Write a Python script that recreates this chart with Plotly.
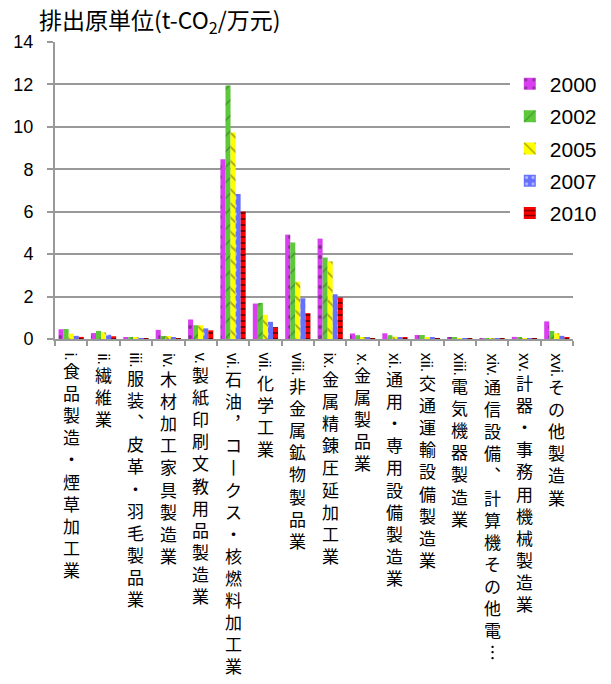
import plotly.graph_objects as go

# ---------------- data ----------------
categories_prefix = ["i.", "ii.", "iii.", "iv.", "v.", "vi.", "vii.", "viii.",
                     "ix.", "x.", "xi.", "xii.", "xiii.", "xiv.", "xv.", "xvi."]
categories_name = [
    "食品製造・煙草加工業",
    "繊維業",
    "服装、皮革・羽毛製品業",
    "木材加工家具製造業",
    "製紙印刷文教用品製造業",
    "石油，コークス・核燃料加工業",
    "化学工業",
    "非金属鉱物製品業",
    "金属精錬圧延加工業",
    "金属製品業",
    "通用・専用設備製造業",
    "交通運輸設備製造業",
    "電気機器製造業",
    "通信設備、計算機その他電…",
    "計器・事務用機械製造業",
    "その他製造業",
]
years = ["2000", "2002", "2005", "2007", "2010"]
v2000 = [0.46, 0.28, 0.09, 0.43, 0.92, 8.47, 1.67, 4.92, 4.73, 0.26, 0.27, 0.19, 0.05, 0.01, 0.10, 0.83]
v2002 = [0.47, 0.38, 0.06, 0.14, 0.65, 11.95, 1.70, 4.55, 3.84, 0.18, 0.18, 0.19, 0.05, 0.01, 0.06, 0.38]
v2005 = [0.25, 0.31, 0.05, 0.14, 0.65, 9.73, 1.14, 2.70, 3.66, 0.07, 0.11, 0.08, 0.02, 0.005, 0.02, 0.27]
v2007 = [0.15, 0.20, 0.03, 0.05, 0.50, 6.84, 0.81, 1.92, 2.11, 0.05, 0.08, 0.05, 0.01, 0.005, 0.02, 0.15]
v2010 = [0.10, 0.13, 0.02, 0.04, 0.41, 6.01, 0.56, 1.22, 1.95, 0.03, 0.05, 0.04, 0.01, 0.005, 0.01, 0.06]
series_values = [v2000, v2002, v2005, v2007, v2010]
y_tick_values = [0, 2, 4, 6, 8, 10, 12, 14]
title_text = "排出原単位(t-CO<sub>2</sub>/万元)"

# ---------------- styles ----------------
colors = ["#D93EF0", "#5CC83A", "#FFFF00", "#6670FF", "#FF0000"]
patterns = [
    dict(shape=".", fgcolor="#2a2a2a", size=10, solidity=0.12),
    dict(shape="/", fgcolor="#2f4f22", size=11, solidity=0.12),
    dict(shape="\\", fgcolor="#4a4a1a", size=10, solidity=0.18),
    dict(shape=".", fgcolor="#ffffff", size=8, solidity=0.18),
    dict(shape="-", fgcolor="#000000", size=6, solidity=0.33),
]

x_keys = [p + n for p, n in zip(categories_prefix, categories_name)]

fig = go.Figure()
for yr, vals, col, pat in zip(years, series_values, colors, patterns):
    fig.add_trace(go.Bar(
        x=x_keys, y=vals, name=yr, legendgroup=yr,
        marker=dict(color=col, line=dict(width=0), pattern=dict(fillmode="overlay", **pat)),
    ))

# vertical-writing labels: rotated roman prefix + upright stacked characters
vert_map = {"ー": "丨", "、": "︑", "，": "︐", "…": "︙"}
char_w = {"i": 0.222, "v": 0.5, "x": 0.5, ".": 0.278}
pref_font = 16
annotations = []
for key, pre, name in zip(x_keys, categories_prefix, categories_name):
    plen = sum(char_w[c] for c in pre) * pref_font
    annotations.append(dict(
        x=key, xref="x", y=0, yref="paper", yanchor="top", xanchor="center",
        yshift=-12, text=pre, textangle=90, showarrow=False,
        font=dict(family="Liberation Sans, Arial", size=pref_font, color="#000"),
    ))
    stacked = "<br>".join(vert_map.get(c, c) for c in name)
    annotations.append(dict(
        x=key, xref="x", y=0, yref="paper", yanchor="top", xanchor="center",
        yshift=-(9 + plen), text=stacked, showarrow=False,
        font=dict(family="Noto Sans CJK JP", size=17, color="#000"),
    ))

annotations.append(dict(
    x=0, xref="paper", xanchor="left", xshift=-18,
    y=1, yref="paper", yanchor="bottom", yshift=1,
    text=title_text, showarrow=False,
    font=dict(family="Noto Sans CJK JP", size=23, color="#000"),
))

fig.update_layout(
    width=611, height=684,
    margin=dict(l=54.5, r=9.5, t=41.7, b=345.3),
    paper_bgcolor="white", plot_bgcolor="white",
    barmode="group", bargap=0.22, bargroupgap=0,
    showlegend=True,
    legend=dict(
        x=0.878, xanchor="left", y=0.927, yanchor="top",
        bgcolor="white", borderwidth=0, tracegroupgap=2,
        font=dict(family="Liberation Sans, Arial", size=21, color="#000"),
    ),
    annotations=annotations,
)
fig.update_xaxes(
    type="category", showticklabels=False, tickson="boundaries",
    ticks="outside", ticklen=5, tickwidth=2, tickcolor="#999999",
    showline=True, linecolor="#999999", linewidth=2, showgrid=False,
)
fig.update_yaxes(
    range=[0, 14], tickvals=y_tick_values, ticks="outside", ticklen=6,
    tickwidth=2, tickcolor="#999999", showline=True, linecolor="#999999",
    linewidth=2, showgrid=True, gridcolor="#999999", gridwidth=2,
    zeroline=False, ticklabelstandoff=10,
    tickfont=dict(family="Liberation Sans, Arial", size=18, color="#000"),
)

fig.write_html("out.html")
